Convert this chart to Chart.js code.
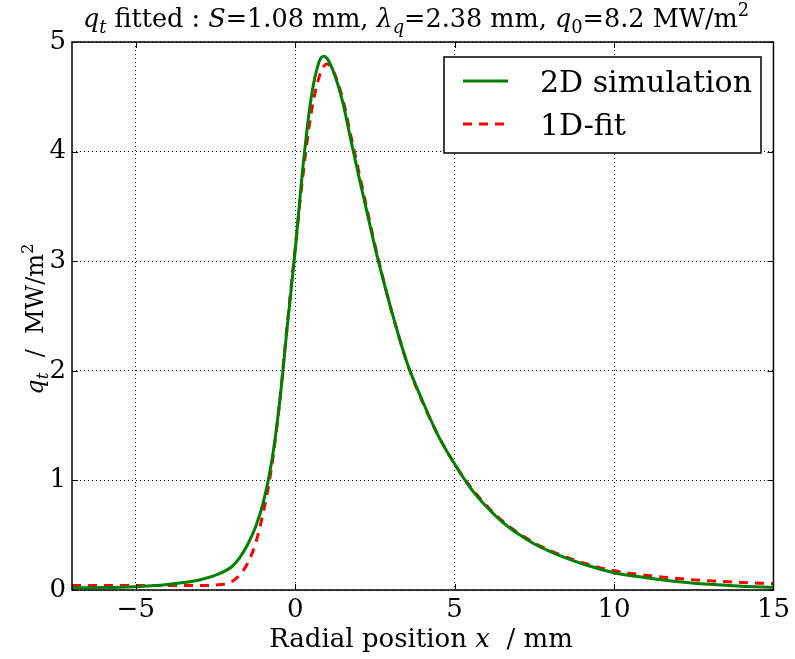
<!DOCTYPE html>
<html>
<head>
<meta charset="utf-8">
<script src="https://cdn.jsdelivr.net/npm/chart.js@4"></script>
<style>
  html, body { margin: 0; padding: 0; background: #fff; }
  canvas { display: block; }
</style>
</head>
<body>
<canvas id="c" width="795" height="659"></canvas>
<script>
// values (x in mm, q in MW/m^2)
const xPos = [-7, -6, -5, -4.5, -4, -3.5, -3, -2.5, -2, -1.75, -1.5, -1.25, -1, -0.75, -0.5, -0.25,
  0, 0.25, 0.5, 0.75, 0.9, 1, 1.25, 1.5, 1.75, 2, 2.25, 2.5, 2.75, 3,
  3.5, 4, 4.5, 5, 5.5, 6, 6.5, 7, 7.5, 8, 8.5, 9, 10, 11, 12, 13, 14, 15];
const simValues = [0.020, 0.022, 0.030, 0.038, 0.050, 0.068, 0.092, 0.135, 0.21, 0.29, 0.41, 0.57, 0.80, 1.15, 1.68, 2.40,
  3.10, 3.88, 4.49, 4.82, 4.87, 4.85, 4.69, 4.44, 4.10, 3.77, 3.45, 3.13, 2.84, 2.57,
  2.08, 1.72, 1.40, 1.15, 0.93, 0.76, 0.62, 0.51, 0.42, 0.35, 0.29, 0.24, 0.158, 0.112, 0.076, 0.052, 0.035, 0.025];
const fitValues = [0.040, 0.040, 0.040, 0.040, 0.040, 0.040, 0.040, 0.045, 0.075, 0.135, 0.24, 0.42, 0.71, 1.10, 1.68, 2.42,
  3.12, 3.80, 4.35, 4.68, 4.78, 4.80, 4.70, 4.47, 4.14, 3.81, 3.48, 3.15, 2.85, 2.57,
  2.08, 1.71, 1.40, 1.15, 0.94, 0.77, 0.63, 0.52, 0.43, 0.36, 0.30, 0.25, 0.175, 0.135, 0.104, 0.084, 0.069, 0.058];
const xTicks = [-5, 0, 5, 10, 15];
const yTicks = [0, 1, 2, 3, 4, 5];
const seriesLabels = ['2D simulation', '1D-fit'];

const SERIF = '"DejaVu Serif", serif';

// draw a line of text made of runs (italic / sub / sup pieces)
function drawRuns(ctx, runs, x, y, size, align) {
  const fontFor = r => (r.i ? 'italic ' : '') + ((r.sub || r.sup) ? size * 0.7 : size) + 'px ' + SERIF;
  let total = 0;
  const widths = runs.map(r => {
    ctx.font = fontFor(r);
    const w = ctx.measureText(r.t).width;
    total += w;
    return w;
  });
  let cx = align === 'center' ? x - total / 2 : x;
  ctx.textBaseline = 'alphabetic';
  ctx.textAlign = 'left';
  runs.forEach((r, i) => {
    ctx.font = fontFor(r);
    let dy = 0;
    if (r.sub) dy = size * 0.22;
    if (r.sup) dy = -size * 0.42;
    ctx.fillText(r.t, cx, y + dy);
    cx += widths[i];
  });
}

const decorations = {
  id: 'decorations',
  afterDraw(chart) {
    const ctx = chart.ctx;
    const a = chart.chartArea;
    const sx = chart.scales.x, sy = chart.scales.y;
    ctx.save();
    ctx.fillStyle = '#000';
    ctx.strokeStyle = '#000';

    // inward tick marks on all four sides
    ctx.lineWidth = 1;
    ctx.setLineDash([]);
    ctx.beginPath();
    xTicks.forEach(v => {
      const p = Math.round(sx.getPixelForValue(v)) + 0.5;
      ctx.moveTo(p, a.bottom); ctx.lineTo(p, a.bottom - 6);
      ctx.moveTo(p, a.top); ctx.lineTo(p, a.top + 6);
    });
    yTicks.forEach(v => {
      const p = Math.round(sy.getPixelForValue(v)) + 0.5;
      ctx.moveTo(a.left, p); ctx.lineTo(a.left + 6, p);
      ctx.moveTo(a.right, p); ctx.lineTo(a.right - 6, p);
    });
    ctx.stroke();

    // frame
    ctx.lineWidth = 1.5;
    ctx.strokeRect(a.left, a.top, a.right - a.left, a.bottom - a.top);

    // legend box
    const lx = 444, ly = 57, lw = 317, lh = 96;
    ctx.fillStyle = '#fff';
    ctx.fillRect(lx, ly, lw, lh);
    ctx.lineWidth = 1.5;
    ctx.strokeRect(lx, ly, lw, lh);
    chart.data.datasets.forEach((ds, i) => {
      const yy = 81 + i * 43;
      ctx.beginPath();
      ctx.strokeStyle = ds.borderColor;
      ctx.lineWidth = ds.borderWidth;
      ctx.setLineDash(ds.borderDash || []);
      ctx.moveTo(463, yy); ctx.lineTo(508, yy);
      ctx.stroke();
      ctx.setLineDash([]);
      ctx.fillStyle = '#000';
      ctx.font = '30px ' + SERIF;
      ctx.textAlign = 'left';
      ctx.textBaseline = 'alphabetic';
      ctx.fillText(ds.label, 540, yy + 11);
    });

    ctx.fillStyle = '#000';
    // title
    drawRuns(ctx, [
      { t: 'q', i: true }, { t: 't', i: true, sub: true }, { t: ' fitted : ' },
      { t: 'S', i: true }, { t: '=1.08 mm, ' },
      { t: 'λ', i: true }, { t: 'q', i: true, sub: true }, { t: '=2.38 mm, ' },
      { t: 'q', i: true }, { t: '0', sub: true }, { t: '=8.2 MW/m' }, { t: '2', sup: true }
    ], 416, 27, 25.5, 'center');

    // x axis label
    drawRuns(ctx, [
      { t: 'Radial position ' }, { t: 'x', i: true }, { t: '  / mm' }
    ], 421, 647, 26, 'center');

    // y axis label (rotated)
    ctx.save();
    ctx.translate(43, 319);
    ctx.rotate(-Math.PI / 2);
    drawRuns(ctx, [
      { t: 'q', i: true }, { t: 't', i: true, sub: true }, { t: '  /  MW/m' }, { t: '2', sup: true }
    ], 0, 0, 24, 'center');
    ctx.restore();

    ctx.restore();
  }
};

const minusFmt = v => (v < 0 ? '\u2212' + Math.abs(v) : String(v));

new Chart(document.getElementById('c'), {
  type: 'line',
  data: {
    datasets: [
      {
        label: seriesLabels[0],
        data: xPos.map((x, i) => ({ x, y: simValues[i] })),
        borderColor: '#008000',
        borderWidth: 3,
        pointRadius: 0,
        fill: false,
        cubicInterpolationMode: 'monotone'
      },
      {
        label: seriesLabels[1],
        data: xPos.map((x, i) => ({ x, y: fitValues[i] })),
        borderColor: '#ff0000',
        borderWidth: 3,
        borderDash: [9, 7],
        pointRadius: 0,
        fill: false,
        cubicInterpolationMode: 'monotone'
      }
    ]
  },
  options: {
    responsive: false,
    animation: false,
    events: [],
    layout: { padding: { top: 42, right: 20, left: 0, bottom: 0 } },
    plugins: { legend: { display: false }, title: { display: false }, tooltip: { enabled: false } },
    scales: {
      x: {
        type: 'linear',
        min: -7,
        max: 15,
        afterBuildTicks: s => { s.ticks = xTicks.map(v => ({ value: v })); },
        afterFit: s => { s.height = 69; },
        grid: { color: '#000', lineWidth: 1, drawTicks: false },
        border: { display: false, dash: [1, 3] },
        ticks: { color: '#000', padding: 5, font: { family: SERIF, size: 26 }, callback: minusFmt, maxRotation: 0 }
      },
      y: {
        type: 'linear',
        min: 0,
        max: 5,
        afterBuildTicks: s => { s.ticks = yTicks.map(v => ({ value: v })); },
        afterFit: s => { s.width = 72; },
        grid: { color: '#000', lineWidth: 1, drawTicks: false },
        border: { display: false, dash: [1, 3] },
        ticks: { color: '#000', padding: 6, font: { family: SERIF, size: 26 }, callback: minusFmt }
      }
    }
  },
  plugins: [decorations]
});
</script>
</body>
</html>
